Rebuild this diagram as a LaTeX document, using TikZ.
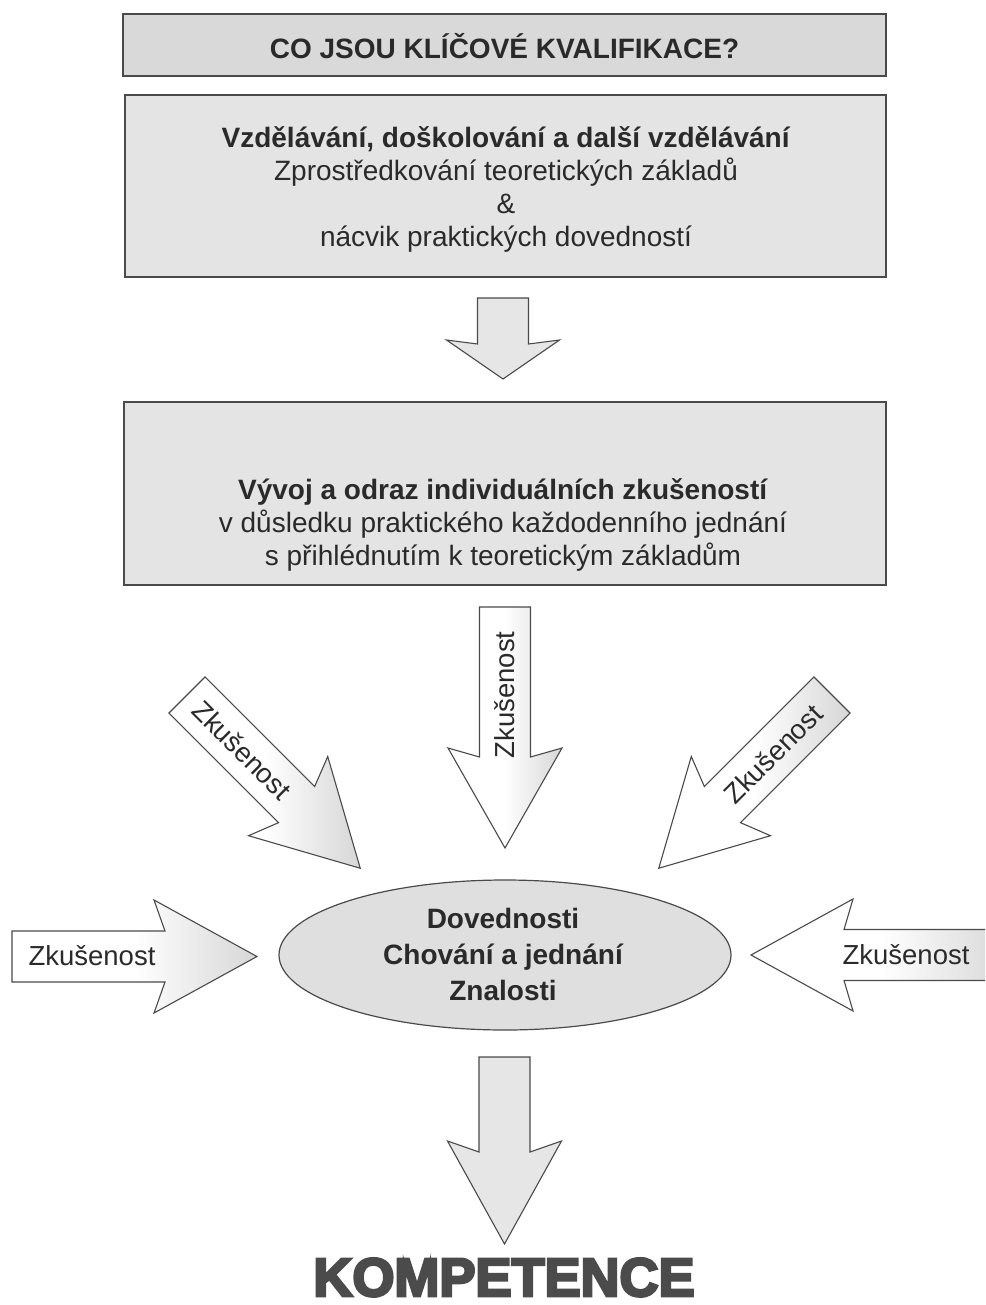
\documentclass[tikz,border=0pt]{standalone}
\usepackage{fontspec}
\usetikzlibrary{shapes.geometric}
\setmainfont{Liberation Sans}
\newfontfamily\heavyfont{Liberation Sans Bold}[FakeBold=5]
\definecolor{edgec}{HTML}{4A4A4A}
\definecolor{txtc}{HTML}{2A2A2A}
\definecolor{titlefill}{HTML}{D9D9D9}
\definecolor{boxfill}{HTML}{E4E4E4}
\definecolor{arrfill}{HTML}{E6E6E6}
\definecolor{ellfill}{HTML}{DFDFDF}
\definecolor{kompc}{HTML}{4B4B4B}
\newcommand{\barrow}[7][]{%
  \begin{scope}[shift={(#2)}, rotate=#3]
    \path[#1] (0,-25.5) -- ({#4-#6},-25.5) -- ({#4-#5},-#7) -- (#4,0)
      -- ({#4-#5},#7) -- ({#4-#6},25.5) -- (0,25.5) -- cycle;
  \end{scope}}
\begin{document}
\begin{tikzpicture}[x=1pt,y=1pt,
  boxstyle/.style={draw=edgec, line width=1.3pt, fill=boxfill, inner sep=0pt},
  plainarrow/.style={draw=edgec, line width=1.1pt, fill=arrfill, line join=miter},
  textarrow/.style={draw=edgec, line width=1.1pt, left color=white, right color=arrfill!85!gray, middle color=white, line join=miter},
  boxtxt/.style={text=txtc, align=center, inner sep=0pt, font=\fontsize{28}{33}\selectfont},
  arrtxt/.style={text=txtc, inner sep=0pt, font=\fontsize{27.5}{30}\selectfont}]
\clip (0,0) rectangle (985,-1305);
\fill[white] (0,0) rectangle (985,-1305);

% boxes
\node[boxstyle, fill=titlefill, line width=1.5pt, minimum width=763pt, minimum height=62pt] (title) at (504.5,-45) {};
\node[text=txtc, inner sep=0pt, font=\fontsize{28}{30}\bfseries\selectfont] (titletxt) at (504.5,-46) {CO JSOU KLÍČOVÉ KVALIFIKACE?};

\node[boxstyle, minimum width=761pt, minimum height=182pt] (box2) at (505.5,-186) {};
\node[boxtxt] (box2txt) at (506,-189) {\textbf{Vzdělávání, doškolování a další vzdělávání}\\Zprostředkování teoretických základů\\\&\\nácvik praktických dovedností};

\node[boxstyle, minimum width=762pt, minimum height=183pt] (box3) at (505,-493.5) {};
\node[boxtxt] (box3txt) at (503,-525) {\textbf{Vývoj a odraz individuálních zkušeností}\\v důsledku praktického každodenního jednání\\s přihlédnutím k teoretickým základům};

% arrow between boxes
\barrow[plainarrow]{503,-298}{-90}{81}{39}{35}{56.5}

% ellipse
\node[draw=edgec, line width=1.2pt, fill=ellfill, ellipse, minimum width=452pt, minimum height=150pt, inner sep=0pt] (core) at (505,-955) {};
\node[text=txtc, align=center, inner sep=0pt, font=\fontsize{28}{36}\bfseries\selectfont] (coretxt) at (503,-954) {Dovednosti\\Chování a jednání\\Znalosti};

% experience arrows
\barrow[textarrow]{505,-607}{-90}{241}{100}{91}{57}
\node[arrtxt, rotate=90] (zk1) at (505,-695) {Zkušenost};

\barrow[textarrow]{187,-695}{-45}{245}{102}{90}{56}
\node[arrtxt, rotate=-45] (zk2) at (242,-750) {Zkušenost};

\barrow[textarrow]{832,-695}{-135}{245}{102}{90}{56}
\node[arrtxt, rotate=45] (zk3) at (773,-754) {Zkušenost};

\barrow[textarrow]{12,-956.5}{0}{245}{103}{92}{56.5}
\node[arrtxt] (zk4) at (92,-956) {Zkušenost};

\barrow[textarrow]{1010,-955}{180}{259}{102}{93}{56}
\node[arrtxt] (zk5) at (906,-955) {Zkušenost};

% bottom arrow
\barrow[plainarrow]{504.5,-1057}{-90}{187}{103}{92}{57}

\node[text=kompc, inner sep=0pt, anchor=base, font=\fontsize{54}{58}\heavyfont] (komp) at (504,-1296) {KOMPETENCE};
\end{tikzpicture}
\end{document}
